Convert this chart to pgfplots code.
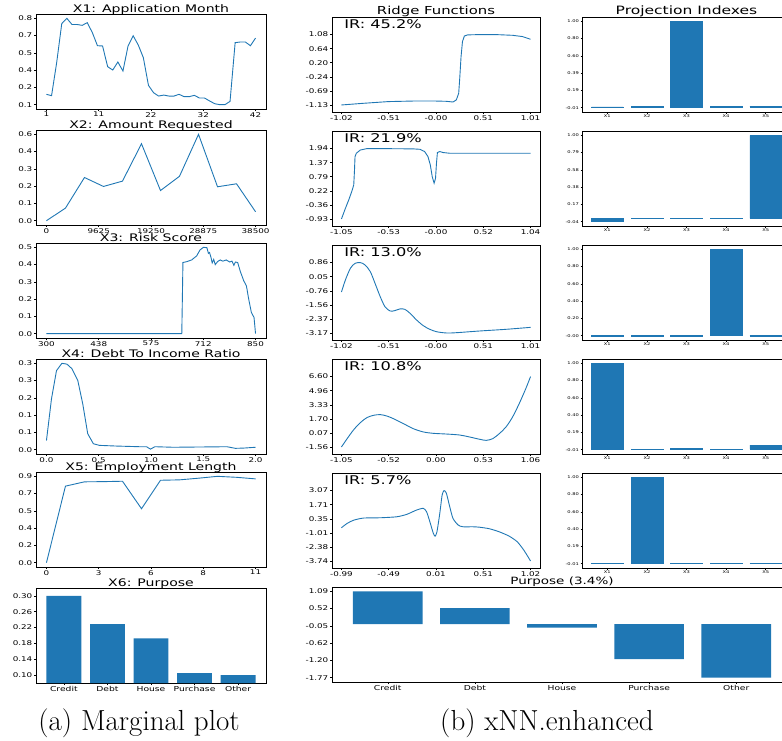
\documentclass[border=0pt]{standalone}
\usepackage{fontspec}
\usepackage{pgfplots}
\pgfplotsset{compat=1.18}
\newfontfamily\mpl[FakeStretch=1.35]{DejaVu Sans}
\newcommand\tf[1]{\mpl\fontsize{#1}{#1}\selectfont}
\definecolor{mplblue}{HTML}{1F77B4}
\pgfplotsset{
  base/.style={scale only axis, anchor=north west,
    axis line style={line width=0.6pt, black},
    tick align=outside, major tick length=2pt,
    every tick/.style={black, line width=0.5pt},
    xtick pos=bottom, ytick pos=left, scaled ticks=false,
    tick label style={font=\tf{6.5}},
    xticklabel style={inner sep=1pt},
    yticklabel style={inner sep=1.5pt},
    every axis title/.style={at={(0.5,1)}, anchor=base, yshift=1.5pt},
    title style={font=\tf{10.4}}},
  ln/.style={no markers, mplblue, line width=0.9pt},
  ridge/.style={base, width=208pt, height=95pt, xmin=-0.2, xmax=4.2, ymin=-0.5, ymax=6.25,
    xtick={0,1,2,3,4}, ytick={0,1,2,3,4,5},
    every axis title/.style={at={(0.5,1)}, anchor=base, yshift=3pt},
    title style={font=\tf{11}}},
  proj/.style={base, width=209pt, height=95pt, xmin=-0.64, xmax=4.64, ybar, bar width=0.8,
    xtick={0,1,2,3,4}, xticklabels={X1,X2,X3,X4,X5}, major tick length=1.5pt,
    tick label style={font=\tf{3.8}},
    every axis title/.style={at={(0.5,1)}, anchor=base, yshift=3pt},
    title style={font=\tf{11.5}}},
  pbar/.style={fill=mplblue, draw=mplblue, line width=0.4pt},
}
\newcommand\IR[1]{\node[anchor=base west, font=\tf{12}, inner sep=0pt] at (rel axis cs:0.058,0.874) {IR: #1\%};}
\begin{document}
\begin{tikzpicture}
\useasboundingbox (0,0) rectangle (782pt,-740pt);

% ---------------- Column 1: marginal plots ----------------
\begin{axis}[base, at={(36pt,-14pt)}, width=230pt, height=95pt, title={X1: Application Month},
  xmin=-1.05, xmax=44.05, ymin=0.065, ymax=0.835,
  xtick={1,11.25,21.5,31.75,42}, xticklabels={1,11,22,32,42},
  ytick={0.10,0.24,0.38,0.52,0.66,0.80}, yticklabels={0.1,0.2,0.4,0.5,0.7,0.8}]
\addplot[ln] coordinates {(1,0.184) (2,0.173) (3,0.44) (4,0.757) (5,0.80) (6,0.75) (7,0.75) (8,0.743) (9,0.765) (10,0.684) (11,0.578) (12,0.576) (13,0.408) (14,0.381) (15,0.446) (16,0.373) (17,0.576) (18,0.659) (19,0.584) (20,0.481) (21,0.257) (22,0.197) (23,0.17) (24,0.178) (25,0.17) (26,0.17) (27,0.184) (28,0.165) (29,0.165) (30,0.176) (31,0.154) (32,0.154) (33,0.13) (34,0.108) (35,0.10) (36,0.10) (37,0.127) (38,0.603) (39,0.608) (40,0.608) (41,0.578) (42,0.64)};
\end{axis}

\begin{axis}[base, at={(36pt,-130pt)}, width=230pt, height=95pt, title={X2: Amount Requested},
  xmin=-1925, xmax=40425, ymin=-0.0275, ymax=0.5775,
  xtick={0,9625,19250,28875,38500}, xticklabels={0,9625,19250,28875,38500},
  ytick={0,0.11,0.22,0.33,0.44,0.55}, yticklabels={0.0,0.1,0.2,0.3,0.4,0.6}]
\addplot[ln] coordinates {(0,0) (3500,0.080) (7000,0.275) (10500,0.218) (14000,0.252) (17500,0.49) (21000,0.192) (24500,0.283) (28000,0.55) (31500,0.216) (35000,0.235) (38500,0.057)};
\end{axis}

\begin{axis}[base, at={(36pt,-243pt)}, width=230pt, height=95pt, title={X3: Risk Score},
  xmin=272.5, xmax=877.5, ymin=-0.025, ymax=0.525,
  xtick={300,437.5,575,712.5,850}, xticklabels={300,438,575,712,850},
  ytick={0,0.1,0.2,0.3,0.4,0.5}, yticklabels={0.0,0.1,0.2,0.3,0.4,0.5}]
\addplot[ln] coordinates {(300,0) (656,0) (659,0.412) (669,0.417) (682,0.427) (695,0.45) (704,0.485) (713,0.5) (722,0.498) (726,0.465) (729,0.47) (733,0.44) (736,0.41) (740,0.43) (744,0.40) (750,0.417) (757,0.427) (764,0.42) (773,0.427) (782,0.415) (788,0.42) (793,0.396) (797,0.415) (803,0.412) (810,0.36) (819,0.306) (826,0.277) (832,0.20) (839,0.123) (846,0.094) (850,0)};
\end{axis}

\begin{axis}[base, at={(36pt,-359pt)}, width=230pt, height=95pt, title={X4: Debt To Income Ratio},
  xmin=-0.1, xmax=2.1, ymin=-0.016, ymax=0.336,
  xtick={0,0.5,1,1.5,2}, xticklabels={0.0,0.5,1.0,1.5,2.0},
  ytick={0,0.064,0.128,0.192,0.256,0.32}, yticklabels={0.0,0.1,0.1,0.2,0.3,0.3}]
\addplot[ln] coordinates {(0,0.034) (0.048,0.188) (0.096,0.293) (0.148,0.32) (0.196,0.317) (0.244,0.30) (0.30,0.256) (0.347,0.17) (0.395,0.059) (0.449,0.022) (0.507,0.016) (0.668,0.0135) (0.892,0.011) (0.957,0.011) (0.995,0.002) (1.037,0.011) (1.213,0.009) (1.47,0.01) (1.727,0.011) (1.807,0.005) (1.888,0.006) (2.0,0.009)};
\end{axis}

\begin{axis}[base, at={(36pt,-472pt)}, width=230pt, height=95pt, title={X5: Employment Length},
  xmin=-0.55, xmax=11.55, ymin=-0.044, ymax=0.924,
  xtick={0,2.75,5.5,8.25,11}, xticklabels={0,3,6,8,11},
  ytick={0,0.176,0.352,0.528,0.704,0.88}, yticklabels={0.0,0.2,0.4,0.5,0.7,0.9}]
\addplot[ln] coordinates {(0,0) (1,0.78) (2,0.824) (3,0.826) (4,0.83) (5,0.55) (6,0.84) (7,0.844) (8,0.861) (9,0.88) (10,0.87) (11,0.854)};
\end{axis}

\begin{axis}[base, at={(36pt,-588pt)}, width=230pt, height=95pt, title={X6: Purpose},
  xmin=-0.64, xmax=4.64, ymin=0.078, ymax=0.320, ybar, bar width=0.8,
  xtick={0,1,2,3,4}, xticklabels={Credit,Debt,House,Purchase,Other},
  xticklabel style={font=\tf{6.8}},
  ytick={0.098,0.1384,0.1788,0.2192,0.2596,0.30}, yticklabels={0.10,0.14,0.18,0.22,0.26,0.30}]
\addplot[fill=mplblue, draw=none] coordinates {(0,0.30) (1,0.228) (2,0.192) (3,0.103) (4,0.098)};
\end{axis}

% ---------------- Column 2: ridge functions ----------------
\begin{axis}[ridge, at={(332pt,-17pt)}, title={Ridge Functions},
  xticklabels={-1.02,-0.51,-0.00,0.51,1.01},
  yticklabels={-1.13,-0.69,-0.24,0.20,0.64,1.08}]
\addplot[ln] coordinates {(0,0) (0.47,0.12) (0.99,0.24) (1.52,0.28) (1.99,0.28) (2.22,0.26) (2.36,0.21) (2.43,0.36) (2.48,0.83) (2.50,1.78) (2.53,3.44) (2.56,4.5) (2.60,4.9) (2.67,4.98) (2.92,5.0) (3.27,5.0) (3.62,4.95) (3.83,4.86) (4.0,4.67)};
\IR{45.2}
\end{axis}

\begin{axis}[ridge, at={(332pt,-131pt)},
  xticklabels={-1.05,-0.53,-0.00,0.52,1.04},
  yticklabels={-0.93,-0.36,0.22,0.79,1.37,1.94}]
\addplot[ln] coordinates {(0,0) (0.084,0.76) (0.154,1.35) (0.224,2.01) (0.26,2.42) (0.275,3.4) (0.287,4.43) (0.315,4.67) (0.4,4.9) (0.54,5.0) (0.82,5.0) (1.52,4.98) (1.66,4.95) (1.76,4.79) (1.83,4.43) (1.88,3.84) (1.92,3.01) (1.96,2.54) (1.99,2.89) (2.01,3.96) (2.03,4.72) (2.08,4.79) (2.15,4.72) (2.29,4.67) (2.92,4.67) (4.0,4.67)};
\IR{21.9}
\end{axis}

\begin{axis}[ridge, at={(332pt,-245pt)},
  xticklabels={-1.02,-0.51,-0.00,0.51,1.01},
  yticklabels={-3.17,-2.37,-1.56,-0.76,0.05,0.86}]
\addplot[ln, smooth] coordinates {(0,2.91) (0.084,3.77) (0.19,4.6) (0.29,4.95) (0.4,5.0) (0.5,4.83) (0.61,4.36) (0.71,3.53) (0.82,2.58) (0.92,1.87) (1.03,1.56) (1.13,1.59) (1.24,1.71) (1.34,1.68) (1.45,1.4) (1.59,0.92) (1.73,0.52) (1.87,0.26) (2.01,0.09) (2.22,0.0) (2.43,0.02) (2.92,0.14) (3.48,0.26) (4.0,0.4)};
\IR{13.0}
\end{axis}

\begin{axis}[ridge, at={(332pt,-359pt)},
  xticklabels={-1.05,-0.52,0.00,0.53,1.06},
  yticklabels={-1.56,0.07,1.70,3.33,4.96,6.60}]
\addplot[ln, smooth] coordinates {(0,0) (0.12,0.59) (0.26,1.23) (0.4,1.73) (0.54,2.09) (0.68,2.25) (0.82,2.3) (0.96,2.2) (1.1,2.01) (1.31,1.66) (1.52,1.3) (1.73,1.07) (1.94,0.97) (2.22,0.92) (2.5,0.85) (2.71,0.71) (2.92,0.55) (3.06,0.47) (3.2,0.59) (3.34,0.95) (3.48,1.42) (3.62,2.13) (3.76,3.08) (3.9,4.15) (4.0,5.0)};
\IR{10.8}
\end{axis}

\begin{axis}[ridge, at={(332pt,-473pt)},
  xticklabels={-0.99,-0.49,0.01,0.51,1.02},
  yticklabels={-3.74,-2.38,-1.01,0.35,1.71,3.07}]
\addplot[ln, smooth, tension=0.4] coordinates {(0,2.36) (0.12,2.67) (0.26,2.9) (0.47,3.05) (0.82,3.07) (1.17,3.14) (1.38,3.31) (1.59,3.62) (1.73,3.74) (1.8,3.5) (1.87,2.79) (1.94,2.0) (1.98,1.76) (2.02,2.07) (2.08,3.38) (2.13,4.69) (2.17,5.0) (2.22,4.81) (2.29,3.86) (2.36,3.02) (2.47,2.55) (2.57,2.43) (2.78,2.43) (2.92,2.4) (3.13,2.29) (3.34,2.07) (3.55,1.76) (3.72,1.36) (3.86,0.76) (4.0,0)};
\IR{5.7}
\end{axis}

% ---------------- Column 3: projection indexes ----------------
\begin{axis}[proj, at={(582pt,-17pt)}, title={Projection Indexes},
  ymin=-0.0605, ymax=1.0505,
  ytick={-0.01,0.192,0.394,0.596,0.798,1.0}, yticklabels={-0.01,0.19,0.39,0.60,0.80,1.00}]
\addplot[pbar] coordinates {(0,-0.01) (1,0.004) (2,1.0) (3,0.004) (4,0.004)};
\end{axis}

\begin{axis}[proj, at={(582pt,-131pt)},
  ymin=-0.092, ymax=1.052,
  ytick={-0.04,0.168,0.376,0.584,0.792,1.0}, yticklabels={-0.04,0.17,0.38,0.58,0.79,1.00}]
\addplot[pbar] coordinates {(0,-0.04) (1,0.003) (2,0.003) (3,0.003) (4,1.0)};
\end{axis}

\begin{axis}[proj, at={(582pt,-245pt)},
  ymin=-0.05, ymax=1.05,
  ytick={0,0.2,0.4,0.6,0.8,1.0}, yticklabels={-0.00,0.20,0.40,0.60,0.80,1.00}]
\addplot[pbar] coordinates {(0,-0.002) (1,-0.002) (2,-0.002) (3,1.0) (4,-0.002)};
\end{axis}

\begin{axis}[proj, at={(582pt,-359pt)},
  ymin=-0.0584, ymax=1.0504,
  ytick={-0.008,0.1936,0.3952,0.5968,0.7984,1.0}, yticklabels={-0.01,0.19,0.40,0.60,0.80,1.00}]
\addplot[pbar] coordinates {(0,1.0) (1,-0.006) (2,0.006) (3,-0.006) (4,0.045)};
\end{axis}

\begin{axis}[proj, at={(582pt,-473pt)},
  ymin=-0.0584, ymax=1.0504,
  ytick={-0.008,0.1936,0.3952,0.5968,0.7984,1.0}, yticklabels={-0.01,0.19,0.40,0.60,0.80,1.00}]
\addplot[pbar] coordinates {(0,-0.008) (1,1.0) (2,-0.004) (3,-0.004) (4,-0.004)};
\end{axis}

% ---------------- Purpose (b) ----------------
\begin{axis}[base, at={(332pt,-587pt)}, width=460pt, height=95pt, title={Purpose (3.4\%)},
  every axis title/.style={at={(0.5,1)}, anchor=base, yshift=3pt},
  title style={font=\tf{10}},
  xmin=-0.64, xmax=4.64, ymin=-1.913, ymax=1.233, ybar, bar width=0.8,
  xtick={0,1,2,3,4}, xticklabels={Credit,Debt,House,Purchase,Other},
  xticklabel style={font=\tf{6.8}},
  ytick={-1.77,-1.198,-0.626,-0.054,0.518,1.09}, yticklabels={-1.77,-1.20,-0.62,-0.05,0.52,1.09}]
\addplot[fill=mplblue, draw=none] coordinates {(0,1.09) (1,0.535) (2,-0.116) (3,-1.154) (4,-1.77)};
\end{axis}

% ---------------- Captions ----------------
\node[anchor=base, font=\fontsize{29}{33}\selectfont, inner sep=0pt] at (139pt,-730pt) {(a) Marginal plot};
\node[anchor=base, font=\fontsize{29}{33}\selectfont, inner sep=0pt] at (547pt,-730pt) {(b) xNN.enhanced};
\end{tikzpicture}
\end{document}
